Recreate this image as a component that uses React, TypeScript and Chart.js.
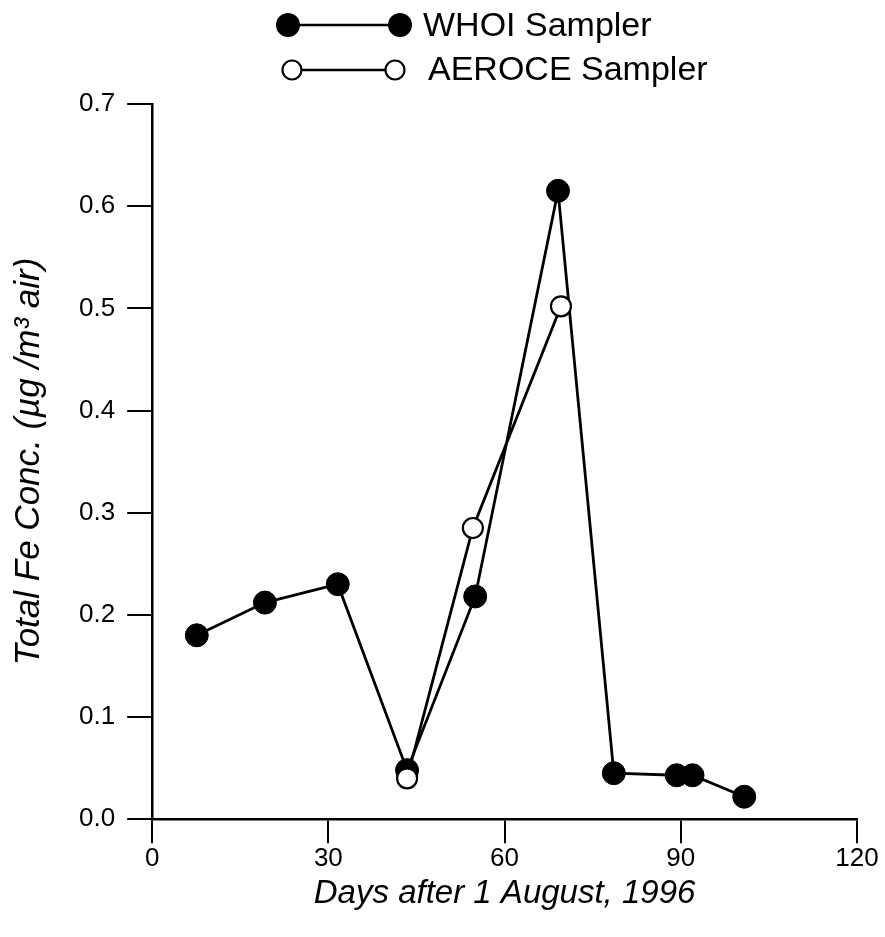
import React, { useEffect, useRef } from "react";
import { Chart, registerables } from "chart.js";

Chart.register(...registerables);

const whoiDays = [7.6, 19.2, 31.6, 43.4, 55.0, 69.1, 78.6, 89.3, 92.0, 100.8];
const whoiFe = [0.18, 0.212, 0.23, 0.048, 0.218, 0.615, 0.045, 0.043, 0.043, 0.022];
const aeroceDays = [43.4, 54.6, 69.6];
const aeroceFe = [0.04, 0.285, 0.502];
const seriesNames = ["WHOI Sampler", "AEROCE Sampler"];
const xTitle = "Days after 1 August, 1996";
const yTitle = "Total Fe Conc. (\u00b5g /m\u00b3 air)";

const FONT = "'Liberation Sans', Arial, Helvetica, sans-serif";

const legendPlugin = {
  id: "customLegend",
  afterDraw(chart: any) {
    const ctx = chart.ctx;
    ctx.save();
    ctx.strokeStyle = "#000";
    ctx.lineWidth = 2.5;
    // row 1: filled
    ctx.beginPath();
    ctx.moveTo(288, 25);
    ctx.lineTo(400, 25);
    ctx.stroke();
    ctx.fillStyle = "#000";
    [288, 400].forEach((cx) => {
      ctx.beginPath();
      ctx.arc(cx, 25, 12, 0, Math.PI * 2);
      ctx.fill();
    });
    // row 2: open
    ctx.beginPath();
    ctx.moveTo(292, 70);
    ctx.lineTo(395, 70);
    ctx.stroke();
    [292, 395].forEach((cx) => {
      ctx.beginPath();
      ctx.arc(cx, 70, 9.5, 0, Math.PI * 2);
      ctx.fillStyle = "#fff";
      ctx.fill();
      ctx.lineWidth = 2.2;
      ctx.stroke();
    });
    ctx.fillStyle = "#000";
    ctx.font = `34px ${FONT}`;
    ctx.textBaseline = "alphabetic";
    ctx.textAlign = "left";
    ctx.fillText(seriesNames[0], 423, 36);
    ctx.fillText(seriesNames[1], 428, 80);
    ctx.restore();
  },
};

export default function App() {
  const ref = useRef<HTMLCanvasElement>(null);
  useEffect(() => {
    if (!ref.current) return;
    const chart = new Chart(ref.current, {
      type: "line",
      data: {
        datasets: [
          {
            label: seriesNames[1],
            data: aeroceDays.map((x, i) => ({ x, y: aeroceFe[i] })),
            borderColor: "#000",
            borderWidth: 2.8,
            pointBackgroundColor: "#fff",
            pointBorderColor: "#000",
            pointBorderWidth: 2.2,
            pointRadius: 10,
            pointHoverRadius: 10,
            order: 0,
            tension: 0,
          },
          {
            label: seriesNames[0],
            data: whoiDays.map((x, i) => ({ x, y: whoiFe[i] })),
            borderColor: "#000",
            borderWidth: 2.8,
            pointBackgroundColor: "#000",
            pointBorderColor: "#000",
            pointBorderWidth: 1,
            pointRadius: 11.5,
            pointHoverRadius: 11.5,
            order: 1,
            tension: 0,
          },
        ],
      },
      options: {
        animation: false,
        responsive: false,
        maintainAspectRatio: false,
        layout: { padding: { top: 104, right: 28, left: 8, bottom: 23 } },
        plugins: { legend: { display: false }, tooltip: { enabled: false } },
        scales: {
          x: {
            type: "linear",
            min: 0,
            max: 120,
            grid: { drawOnChartArea: false, drawTicks: true, tickLength: 24, color: "#000", lineWidth: 2 },
            border: { display: true, color: "#000", width: 2.5 },
            ticks: {
              stepSize: 30,
              color: "#000",
              padding: 0,
              font: { family: FONT, size: 26 },
              maxRotation: 0,
            },
            title: {
              display: true,
              text: xTitle,
              color: "#000",
              font: { family: FONT, size: 33, style: "italic" },
              padding: { top: 0, bottom: 0 },
            },
          },
          y: {
            type: "linear",
            min: 0,
            max: 0.7,
            grid: { drawOnChartArea: false, drawTicks: true, tickLength: 25, color: "#000", lineWidth: 2 },
            border: { display: true, color: "#000", width: 2.5 },
            ticks: {
              stepSize: 0.1,
              color: "#000",
              padding: 12,
              font: { family: FONT, size: 26 },
              callback: (v: any) => Number(v).toFixed(1),
            },
            title: {
              display: true,
              text: yTitle,
              color: "#000",
              font: { family: FONT, size: 35, style: "italic" },
              padding: { top: 0, bottom: 17 },
            },
          },
        },
      },
      plugins: [legendPlugin],
    });
    return () => chart.destroy();
  }, []);
  return (
    <div style={{ position: "absolute", left: 0, top: 0, width: 885, height: 937, background: "#fff" }}>
      <canvas ref={ref} width={885} height={937} style={{ width: 885, height: 937 }} />
    </div>
  );
}
